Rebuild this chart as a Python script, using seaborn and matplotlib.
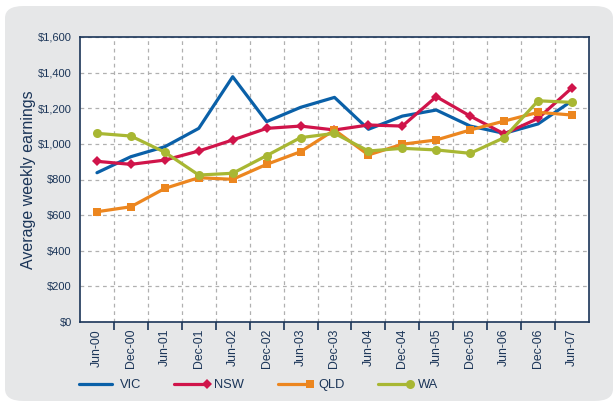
import numpy as np
import pandas as pd
import matplotlib
matplotlib.use('Agg')
import matplotlib.pyplot as plt
from matplotlib.patches import FancyBboxPatch
from matplotlib.lines import Line2D
from matplotlib.legend_handler import HandlerLine2D
import seaborn as sns

# data
periods = ['Jun-00', 'Dec-00', 'Jun-01', 'Dec-01', 'Jun-02', 'Dec-02', 'Jun-03', 'Dec-03',
           'Jun-04', 'Dec-04', 'Jun-05', 'Dec-05', 'Jun-06', 'Dec-06', 'Jun-07']
vic = [838, 928, 984, 1087, 1377, 1125, 1205, 1261, 1082, 1156, 1190, 1100, 1059, 1112, 1242]
nsw = [902, 885, 909, 960, 1022, 1087, 1100, 1078, 1106, 1100, 1265, 1156, 1056, 1143, 1315]
qld = [619, 647, 750, 810, 801, 885, 956, 1078, 938, 998, 1022, 1078, 1128, 1177, 1162]
wa = [1059, 1044, 953, 825, 835, 934, 1035, 1059, 960, 975, 966, 947, 1035, 1242, 1233]

df = pd.DataFrame({'pos': np.arange(len(periods)), 'VIC': vic, 'NSW': nsw, 'QLD': qld, 'WA': wa})

sns.set_style('white')
plt.rcParams['font.family'] = ['Liberation Sans', 'DejaVu Sans']

navy = '#1b3558'
fig = plt.figure(figsize=(6.16, 4.03), dpi=100)
fig.patch.set_facecolor('white')
# grey rounded panel behind everything
panel = FancyBboxPatch((5 / 616, 2 / 403), 608 / 616, 395 / 403,
                       boxstyle='round,pad=0,rounding_size=0.03',
                       transform=fig.transFigure, facecolor='#e6e7e8', edgecolor='none', zorder=-5)
fig.patches.append(panel)

ax = fig.add_axes([80 / 616, 81 / 403, 509 / 616, 285 / 403])
ax.set_zorder(2)
ax.set_facecolor('white')

styles = {
    'VIC': dict(color='#0a60a8', marker=None),
    'NSW': dict(color='#d0144a', marker='D', markersize=5.5),
    'QLD': dict(color='#ec861f', marker='s', markersize=6),
    'WA': dict(color='#a8b733', marker='o', markersize=6.5),
}
for name, st in styles.items():
    sns.lineplot(data=df, x='pos', y=name, ax=ax, label=name, linewidth=2.3,
                 markeredgewidth=0, **st)

ax.set_xlim(-0.5, len(periods) - 0.5)
ax.set_ylim(0, 1600)
ax.set_yticks(np.arange(0, 1601, 200))
ax.set_yticklabels([f'${v:,}' for v in range(0, 1601, 200)])
ax.set_xticks(np.arange(0.5, len(periods) - 1, 1))
ax.set_xticklabels([])
ax.set_xticks(np.arange(len(periods)), minor=True)
ax.set_xticklabels(periods, minor=True, rotation=90)
ax.tick_params(axis='x', which='major', direction='out', length=6, width=1.2, color=navy, bottom=True)
ax.tick_params(axis='x', which='minor', length=0, pad=5, labelsize=8.8, labelcolor=navy)
ax.tick_params(axis='y', length=0, pad=6, labelsize=8, labelcolor=navy)

ax.grid(True, which='major', color='#b0b0b0', linestyle=(0, (3, 3)), linewidth=0.9)
ax.set_axisbelow(True)
for sp in ax.spines.values():
    sp.set_color(navy)
    sp.set_linewidth(1.2)

ax.set_xlabel('')
ax.set_ylabel('Average weekly earnings', fontsize=11.5, color=navy, labelpad=1)


class EndMarker(HandlerLine2D):
    # marker only at the right end of the legend line
    def create_artists(self, *args, **kwargs):
        arts = super().create_artists(*args, **kwargs)
        arts[0].set_markevery([2])
        return arts


ax.get_legend().remove()
handles, labels = ax.get_legend_handles_labels()
fig.legend(handles, labels, loc='center left', bbox_to_anchor=(73 / 616, 18 / 403), ncol=4,
           frameon=False, fontsize=9.3, handlelength=2.5, handletextpad=0.6, columnspacing=2.6,
           borderpad=0, labelcolor=navy, numpoints=1, handler_map={Line2D: EndMarker()})

fig.savefig('out.png', dpi=100)
